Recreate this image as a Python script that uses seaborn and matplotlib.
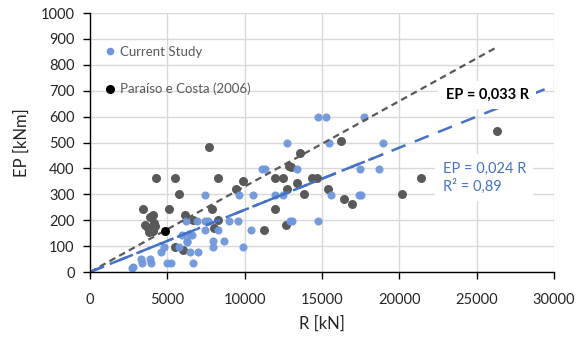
import matplotlib
matplotlib.use("Agg")
import matplotlib.pyplot as plt
from matplotlib.lines import Line2D
import seaborn as sns
import pandas as pd
import numpy as np

# ---- data ----
paraiso_R = [4270, 5520, 5780, 3450, 4070, 3880, 5130, 6140, 7720, 8300, 7890, 8300,
             8020, 9440, 9910, 6640, 3560, 3770, 4050, 4140, 5470, 5990, 11250, 11990,
             11990, 12500, 12890, 12980, 12720, 12670, 13400, 13580, 13840, 14330, 14700,
             15410, 16210, 16420, 16940, 20170, 21420, 26340, 3830, 4200]
paraiso_EP = [363, 363, 301, 243, 220, 212, 243, 220, 484, 363, 243, 200,
              169, 320, 351, 200, 181, 169, 159, 190, 98, 85, 162, 243,
              363, 363, 409, 407, 320, 181, 342, 461, 301, 363, 363,
              320, 506, 282, 263, 301, 362, 543, 155, 178]

current_R = [14740, 15260, 17740, 12720, 15470, 18960, 11120, 11340, 13400, 17460, 18670,
             7460, 9660, 10520, 11990, 12500, 15560, 17410, 17500, 6210, 6900, 7460, 7630,
             9010, 9570, 12930, 13060, 14740, 5950, 6600, 7460, 8280, 6290, 7930, 8660,
             10390, 5780, 4790, 4610, 6470, 6980, 7930, 9910, 3280, 3360, 3880, 3960,
             5000, 5260, 6680, 2720, 2800, 6400, 6250]
current_EP = [597, 597, 597, 497, 497, 497, 398, 398, 398, 398, 398,
              297, 297, 297, 297, 297, 297, 297, 297, 198, 198, 198, 198,
              198, 198, 198, 198, 198, 143, 143, 162, 162, 121, 121, 121,
              162, 98, 98, 78, 78, 78, 98, 98, 49, 36, 49, 36,
              36, 36, 36, 17, 20, 147, 117]

highlight_R = [4830]
highlight_EP = [160]

slope_paraiso = 0.033
slope_current = 0.024
r2_current = 0.89

x_ticks = [0, 5000, 10000, 15000, 20000, 25000, 30000]
y_ticks = [0, 100, 200, 300, 400, 500, 600, 700, 800, 900, 1000]

labels = ["Current Study", "Paraíso e Costa (2006)"]
x_label = "R [kN]"
y_label = "EP [kNm]"

# ---- style ----
sns.set_theme(style="white")
plt.rcParams["font.family"] = ["Lato", "DejaVu Sans"]

BLUE_PT = "#6F97DB"
GREY_PT = "#595959"
BLUE_LN = "#4472C4"
GRID = "#D9D9D9"

fig = plt.figure(figsize=(5.8, 3.4), dpi=100)
ax = fig.add_axes([90 / 580, 1 - 272 / 340, 464 / 580, 259 / 340])

df_p = pd.DataFrame({"R": paraiso_R, "EP": paraiso_EP})
df_c = pd.DataFrame({"R": current_R, "EP": current_EP})
df_h = pd.DataFrame({"R": highlight_R, "EP": highlight_EP})

ax.set_xlim(0, 30000)
ax.set_ylim(0, 1000)
ax.set_xticks(x_ticks)
ax.set_yticks(y_ticks)
ax.grid(True, color=GRID, linewidth=1.0)
ax.set_axisbelow(True)

# trend lines
xp = np.array([0, max(paraiso_R)])
ax.plot(xp, slope_paraiso * xp, color=GREY_PT, lw=1.6, ls=(0, (3, 2)), zorder=4)
xc = np.array([0, 30000])
ax.plot(xc, slope_current * xc, color=BLUE_LN, lw=1.8, ls=(0, (6, 4)), zorder=4)
xc2 = np.array([0, max(current_R)])
ax.plot(xc2, slope_current * xc2, color=BLUE_LN, lw=1.8, ls=(0, (6, 2.5, 1.5, 2.5)), zorder=4)

sns.scatterplot(data=df_p, x="R", y="EP", ax=ax, color=GREY_PT, s=42, linewidth=0,
                zorder=3, legend=False)
sns.scatterplot(data=df_c, x="R", y="EP", ax=ax, color=BLUE_PT, s=34, linewidth=0,
                alpha=0.95, zorder=3, legend=False)
sns.scatterplot(data=df_h, x="R", y="EP", ax=ax, color="black", s=42, linewidth=0,
                zorder=5, legend=False)

for side in ["top", "right"]:
    ax.spines[side].set_visible(False)
for side in ["left", "bottom"]:
    ax.spines[side].set_color("black")
    ax.spines[side].set_linewidth(1.0)
    ax.spines[side].set_zorder(6)

ax.tick_params(axis="both", which="major", direction="out", length=5, width=1,
               color="black", labelsize=10.5, labelcolor="#262626", pad=6,
               bottom=True, left=True)
ax.tick_params(axis="x", pad=10)
ax.set_xlabel(x_label, fontsize=12, color="#262626", labelpad=6)
ax.set_ylabel(y_label, fontsize=12, color="#262626", labelpad=8)

# annotations
ax.text(23000, 683, f"EP = {str(slope_paraiso).replace('.', ',')} R", fontsize=10.5,
        fontweight="bold", color="black", va="center", ha="left", zorder=7,
        bbox=dict(boxstyle="square,pad=0.5", fc="white", ec="none"))
ax.text(22800, 365,
        f"EP = {str(slope_current).replace('.', ',')} R\nR² = {str(r2_current).replace('.', ',')}",
        fontsize=10.5, color=BLUE_LN, va="center", ha="left", zorder=7,
        linespacing=1.25,
        bbox=dict(boxstyle="square,pad=0.5", fc="white", ec="none"))

handles = [
    Line2D([], [], ls="none", marker="o", markersize=5.5, color=BLUE_PT, markeredgewidth=0),
    Line2D([], [], ls="none", marker="o", markersize=6.5, color="black", markeredgewidth=0),
]
leg = ax.legend(handles, labels, loc="upper left", bbox_to_anchor=(0.032, 0.874),
                frameon=False, fontsize=9.5, labelspacing=1.9, handlelength=0.8,
                handletextpad=0.35, borderpad=0, borderaxespad=0)
for t in leg.get_texts():
    t.set_color("#595959")

fig.savefig("out.png", dpi=100)
